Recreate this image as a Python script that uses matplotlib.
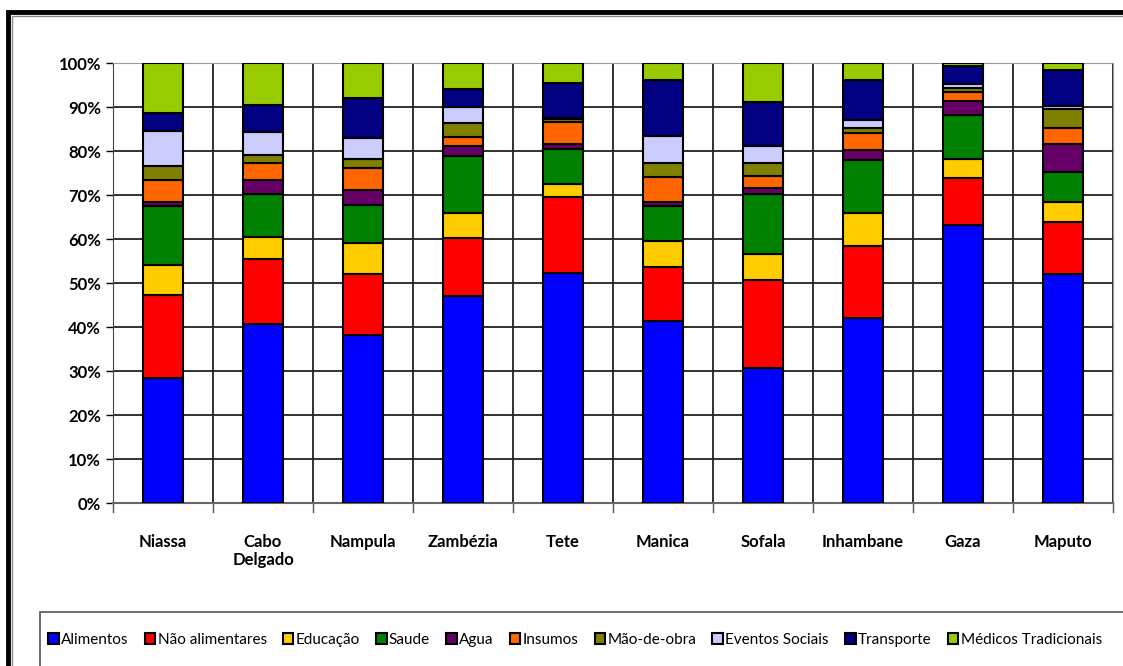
import numpy as np
import matplotlib.pyplot as plt
from matplotlib.patches import Rectangle

provinces = ['Niassa', 'Cabo\nDelgado', 'Nampula', 'Zambézia', 'Tete',
             'Manica', 'Sofala', 'Inhambane', 'Gaza', 'Maputo']
categories = ['Alimentos', 'Não alimentares', 'Educação', 'Saude', 'Agua',
              'Insumos', 'Mão-de-obra', 'Eventos Sociais', 'Transporte',
              'Médicos Tradicionais']
colors = ['#0000FF', '#FF0000', '#FFCC00', '#008000', '#660066',
          '#FF6600', '#808000', '#CCCCFF', '#000080', '#99CC00']

# shares (%) per category, one value per province
alimentos   = [28.3, 40.8, 38.2, 47.1, 52.2, 41.4, 30.7, 42.0, 63.2, 52.0]
nao_alim    = [18.9, 14.8, 13.8, 13.2, 17.4, 12.2, 20.0, 16.3, 10.6, 11.9]
educacao    = [7.0, 4.9, 7.0, 5.5, 2.9, 6.0, 5.9, 7.5, 4.2, 4.6]
saude       = [13.3, 9.7, 8.7, 13.1, 8.0, 7.8, 13.6, 12.2, 10.0, 6.8]
agua        = [1.0, 3.2, 3.4, 2.2, 1.1, 0.9, 1.3, 2.2, 3.2, 6.2]
insumos     = [4.9, 3.9, 5.0, 2.0, 4.9, 5.9, 2.8, 4.0, 2.1, 3.8]
mao_obra    = [3.3, 1.9, 2.0, 3.2, 0.8, 3.0, 2.9, 1.0, 0.9, 4.2]
eventos     = [7.8, 5.1, 4.8, 3.8, 0.3, 6.1, 4.0, 1.8, 0.9, 0.7]
transporte  = [4.1, 6.3, 9.2, 4.1, 7.8, 12.8, 10.0, 9.1, 4.2, 8.1]
medicos     = [11.4, 9.5, 7.9, 5.8, 4.6, 3.9, 8.8, 3.9, 0.6, 1.7]

series = [alimentos, nao_alim, educacao, saude, agua, insumos,
          mao_obra, eventos, transporte, medicos]

plt.rcParams['font.family'] = ['Lato', 'DejaVu Sans']

fig = plt.figure(figsize=(11.23, 6.66), dpi=100)
ax = fig.add_axes([113/1123, 163/666, 1000/1123, 440/666])

data = np.array(series, dtype=float)
data = data / data.sum(axis=0) * 100
x = np.arange(len(provinces))
bottom = np.zeros(len(provinces))
for name, vals, c in zip(categories, data, colors):
    ax.bar(x, vals, bottom=bottom, width=0.4, color=c, edgecolor='black',
           linewidth=1.5, label=name, zorder=3)
    bottom += vals

ax.set_xlim(-0.5, len(provinces) - 0.5)
ax.set_ylim(0, 100)
ax.set_yticks(np.arange(0, 101, 10))
ax.set_yticklabels([f'{v}%' for v in range(0, 101, 10)],
                   fontsize=12, fontweight='bold')
ax.set_xticks(x)
ax.set_xticklabels(provinces, fontsize=12, fontweight='bold')
ax.tick_params(axis='x', length=0, pad=22)
ax.tick_params(axis='y', length=5, width=1)
for b in np.arange(-0.5, len(provinces), 1):
    ax.axvline(b, color='#222222', lw=1.3, zorder=1)
    ax.plot([b, b], [0, -2], color='#555555', lw=1, clip_on=False)
ax.grid(axis='y', color='#222222', lw=1.3, zorder=1)
for s in ['top', 'right']:
    ax.spines[s].set_color('#999999')
ax.spines['left'].set_color('#444444')
ax.spines['bottom'].set_color('#666666')
ax.spines['bottom'].set_linewidth(1.5)

# outer frame
fig.patches.append(Rectangle((8/1123, -0.1), 1.2, (666 - 12)/666 + 0.1,
                             transform=fig.transFigure, fill=False,
                             edgecolor='black', lw=3.5))
fig.patches.append(Rectangle((12/1123, -0.1), 1.2, (666 - 16)/666 + 0.1,
                             transform=fig.transFigure, fill=False,
                             edgecolor='#888888', lw=1))
# legend box
fig.patches.append(Rectangle((40/1123, -0.1), 1.2, (666 - 612)/666 + 0.1,
                             transform=fig.transFigure, fill=False,
                             edgecolor='#555555', lw=1.2))

handles, labels = ax.get_legend_handles_labels()
fig.legend(handles, labels, loc='center left',
           bbox_to_anchor=(48/1123, (666 - 640)/666), ncol=10,
           frameon=False, fontsize=11, handlelength=0.7, handleheight=0.7,
           handletextpad=0.15, columnspacing=1.05, borderpad=0, borderaxespad=0)

fig.savefig('out.png', dpi=100)
